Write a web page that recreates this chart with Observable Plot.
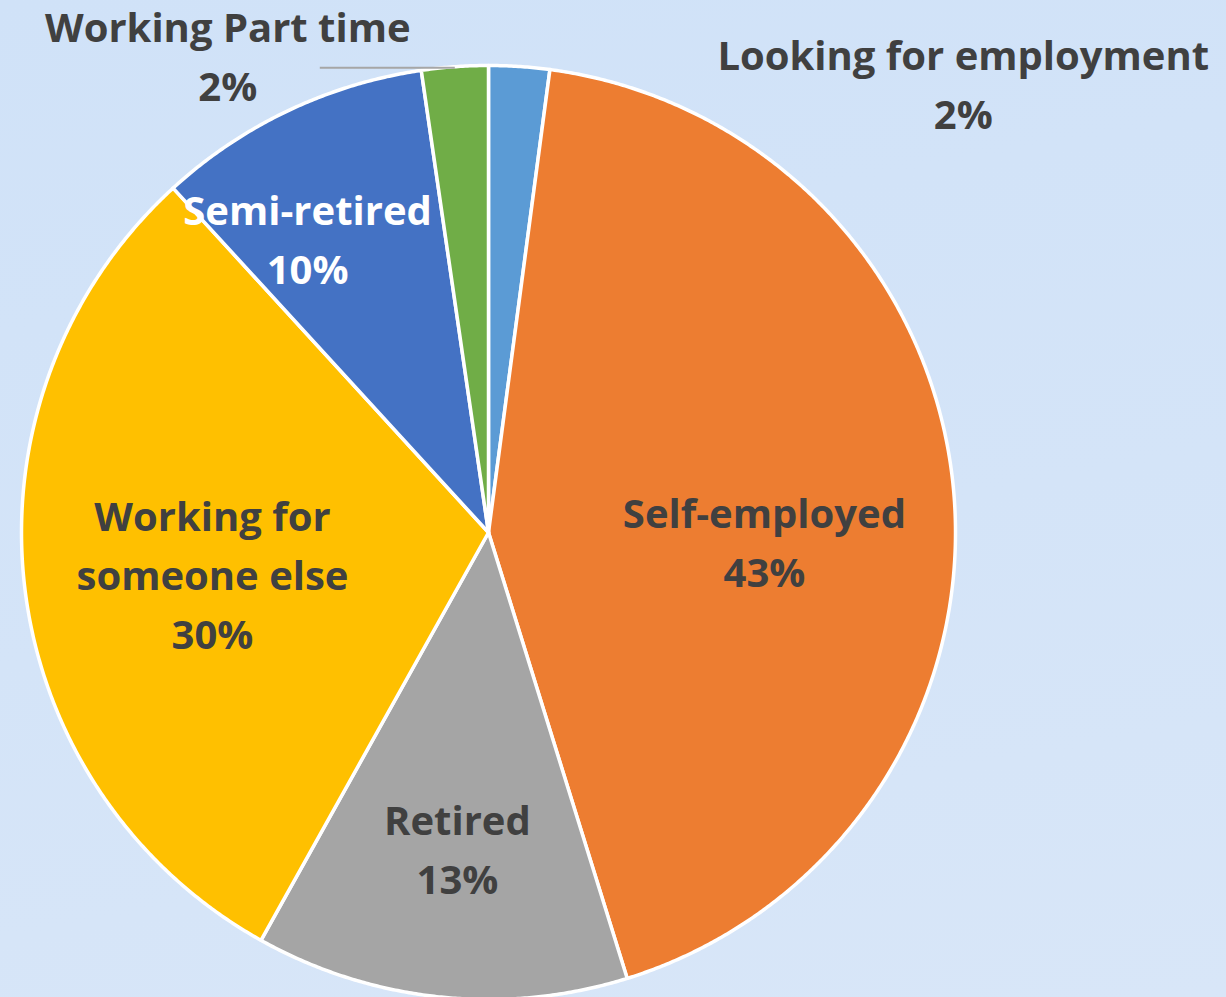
<!DOCTYPE html>
<html>
<head>
<meta charset="utf-8">
<script src="https://cdn.jsdelivr.net/npm/d3@7"></script>
<script src="https://cdn.jsdelivr.net/npm/@observablehq/plot@0.6"></script>
<style>
  html, body { margin: 0; padding: 0; }
  body {
    width: 1226px; height: 997px; overflow: hidden;
    background: linear-gradient(170deg, #d0e2f8 0%, #d4e4f8 55%, #d8e6f8 100%);
  }
  #chart svg { display: block; }
</style>
</head>
<body>
<div id="chart"></div>
<script>
// ---- data ----
const categories = ["Looking for employment", "Self-employed", "Retired", "Working for someone else", "Semi-retired", "Working Part time"];
const shares = [2.1, 43.1, 12.9, 30.1, 9.5, 2.3];
const pctLabels = ["2%", "43%", "13%", "30%", "10%", "2%"];
const colors = ["#5B9BD5", "#ED7D31", "#A5A5A5", "#FFC000", "#4472C4", "#70AD47"];

// ---- layout (not data) ----
const W = 1226, H = 997;
const CX = 488, CY = 532, R = 467;
const TEXT_SHIFT = -5;
// label placement: radius fraction along the slice's mid angle + nudge
const placement = [
  {k: 1.0,   dx: 444,  dy: 19.5},
  {k: 0.593, dx: 0,    dy: 35},
  {k: 0.685, dx: 2,    dy: 0},
  {k: 0.595, dx: 0,    dy: 11},
  {k: 0.734, dx: -34,  dy: 18},
  {k: 1.0,   dx: -227, dy: -9}
];

const arcs = d3.pie().sort(null).value((d, i) => shares[i])(categories);

const polys = [];
arcs.forEach((a, i) => {
  const name = categories[i];
  polys.push({name, x: 0, y: 0});
  const n = Math.max(2, Math.ceil((a.endAngle - a.startAngle) / 0.005));
  for (let j = 0; j <= n; j++) {
    const t = a.startAngle + (a.endAngle - a.startAngle) * j / n;
    polys.push({name, x: R * Math.sin(t), y: -R * Math.cos(t)});
  }
  polys.push({name, x: 0, y: 0});
});

const labels = arcs.map((a, i) => {
  const m = (a.startAngle + a.endAngle) / 2;
  const p = placement[i];
  const ax = R * Math.sin(m), ay = -R * Math.cos(m);
  const name = categories[i].replace("for someone", "for\nsomeone");
  return {
    name: categories[i],
    text: name + "\n" + pctLabels[i],
    x: p.k * ax + p.dx,
    y: p.k * ay + p.dy + TEXT_SHIFT,
    ax, ay
  };
});

const leader = labels.filter(d => d.name === "Working Part time")
  .map(d => ({x1: d.ax, y1: d.ay + 1, x2: d.ax - 135, y2: d.ay + 1}));

const textOpts = {
  x: "x", y: "y", text: "text",
  fontFamily: "'Open Sans', 'Noto Sans', sans-serif",
  fontSize: 40, fontWeight: "bold", lineHeight: 1.475,
  textAnchor: "middle"
};

const chart = Plot.plot({
  width: W, height: H,
  margin: 0,
  style: {background: "transparent", overflow: "visible"},
  x: {domain: [-CX, W - CX], range: [0, W], axis: null},
  y: {domain: [-CY, H - CY], range: [0, H], axis: null},
  color: {domain: categories, range: colors},
  marks: [
    Plot.line(polys, {x: "x", y: "y", z: "name", fill: "name", stroke: "white", strokeWidth: 3.5, strokeLinejoin: "round", curve: "linear"}),
    Plot.link(leader, {x1: "x1", y1: "y1", x2: "x2", y2: "y2", stroke: "#a6a6a6", strokeWidth: 2}),
    Plot.text(labels.filter(d => d.name !== "Semi-retired"), {...textOpts, fill: "#404040"}),
    Plot.text(labels.filter(d => d.name === "Semi-retired"), {...textOpts, fill: "white"})
  ]
});
document.getElementById("chart").appendChild(chart);
</script>
</body>
</html>
